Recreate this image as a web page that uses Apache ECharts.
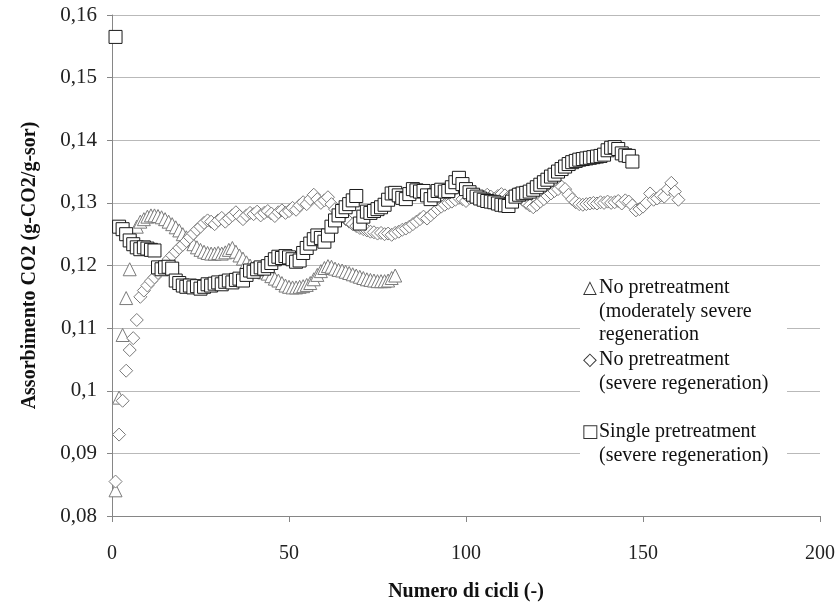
<!DOCTYPE html>
<html>
<head>
<meta charset="utf-8">
<script src="https://cdn.jsdelivr.net/npm/echarts@6/dist/echarts.min.js"></script>
<style>
html,body{margin:0;padding:0;background:#fff;}
#chart{width:840px;height:607px;}
</style>
</head>
<body>
<div id="chart"></div>
<script>
// Assorbimento CO2 per ciclo (ciclo = posizione + 1)
var noPretreatModerate = [
0.0841,0.0989,0.1089,0.1148,0.1194,0.1245,0.1262,0.1270,0.1274,0.1278,
0.1280,0.1280,0.1279,0.1277,0.1274,0.1270,0.1266,0.1261,0.1256,0.1250,
0.1245,0.1240,0.1234,0.1229,0.1225,0.1222,0.1220,0.1219,0.1219,0.1220,
0.1219,0.1221,0.1225,0.1228,0.1222,0.1216,0.1211,0.1205,0.1200,0.1196,
0.1193,0.1191,0.1189,0.1187,0.1183,0.1179,0.1176,0.1172,0.1168,0.1166,
0.1165,0.1165,0.1166,0.1167,0.1169,0.1172,0.1178,0.1185,0.1191,0.1196,
0.1199,0.1198,0.1195,0.1193,0.1192,0.1190,0.1188,0.1186,0.1184,0.1182,
0.1180,0.1178,0.1177,0.1176,0.1175,0.1175,0.1175,0.1176,0.1180,0.1184
];
var noPretreatSevere = [
0.0855,0.0930,0.0984,0.1032,0.1065,0.1084,0.1113,0.1150,0.1160,0.1168,
0.1175,0.1181,0.1188,0.1196,0.1203,0.1210,0.1216,0.1222,0.1228,0.1233,
0.1239,0.1245,0.1251,0.1257,0.1262,0.1268,0.1272,0.1270,0.1266,0.1272,
0.1276,0.1270,0.1275,0.1280,0.1285,0.1279,0.1274,0.1280,0.1284,0.1282,
0.1286,0.1280,0.1284,0.1287,0.1283,0.1279,0.1285,0.1288,0.1284,0.1287,
0.1292,0.1289,0.1296,0.1301,0.1298,0.1306,0.1313,0.1306,0.1300,0.1304,
0.1309,0.1298,0.1290,0.1284,0.1279,0.1274,0.1270,0.1266,0.1263,0.1260,
0.1258,0.1256,0.1254,0.1253,0.1251,0.1252,0.1250,0.1251,0.1249,0.1252,
0.1254,0.1257,0.1259,0.1262,0.1266,0.1270,0.1274,0.1278,0.1275,0.1280,
0.1285,0.1290,0.1294,0.1297,0.1300,0.1302,0.1305,0.1308,0.1306,0.1303,
0.1308,0.1312,0.1309,0.1306,0.1310,0.1313,0.1310,0.1307,0.1311,0.1314,
0.1312,0.1309,0.1312,0.1315,0.1311,0.1305,0.1300,0.1296,0.1293,0.1297,
0.1302,0.1306,0.1311,0.1315,0.1319,0.1322,0.1326,0.1322,0.1313,0.1306,
0.1301,0.1298,0.1297,0.1298,0.1299,0.1300,0.1299,0.1301,0.1300,0.1302,
0.1300,0.1301,0.1303,0.1299,0.1304,0.1302,0.1296,0.1288,0.1290,0.1294,
0.1300,0.1315,0.1305,0.1307,0.1312,0.1310,0.1322,0.1332,0.1318,0.1305
];
var singlePretreatSevere = [
0.1565,0.1262,0.1258,0.1250,0.1240,0.1234,0.1229,0.1226,0.1229,0.1227,
0.1225,0.1224,0.1197,0.1194,0.1197,0.1198,0.1195,0.1176,0.1172,0.1168,
0.1166,0.1168,0.1165,0.1167,0.1163,0.1166,0.1170,0.1168,0.1171,0.1173,
0.1170,0.1174,0.1176,0.1173,0.1177,0.1179,0.1176,0.1185,0.1192,0.1190,
0.1194,0.1197,0.1195,0.1199,0.1204,0.1210,0.1214,0.1212,0.1215,0.1213,
0.1210,0.1206,0.1208,0.1220,0.1228,0.1235,0.1242,0.1248,0.1244,0.1238,
0.1248,0.1262,0.1272,0.1280,0.1287,0.1293,0.1298,0.1304,0.1311,0.1267,
0.1278,0.1286,0.1284,0.1287,0.1290,0.1293,0.1297,0.1305,0.1315,0.1316,
0.1312,0.1308,0.1306,0.1314,0.1322,0.1320,0.1318,0.1319,0.1312,0.1306,
0.1312,0.1319,0.1321,0.1318,0.1319,0.1325,0.1333,0.1340,0.1330,0.1322,
0.1317,0.1313,0.1310,0.1307,0.1305,0.1303,0.1302,0.1301,0.1299,0.1297,
0.1296,0.1295,0.1302,0.1310,0.1313,0.1315,0.1316,0.1318,0.1321,0.1325,
0.1329,0.1333,0.1337,0.1342,0.1345,0.1350,0.1354,0.1358,0.1362,0.1365,
0.1367,0.1369,0.1370,0.1371,0.1372,0.1373,0.1374,0.1375,0.1377,0.1384,
0.1388,0.1389,0.1386,0.1379,0.1376,0.1375,0.1366
];
var seriesNames = [
  'No pretreatment (moderately severe regeneration',
  'No pretreatment (severe regeneration)',
  'Single pretreatment (severe regeneration)'
];
var legendLines = [
  ['No pretreatment', '(moderately severe', 'regeneration'],
  ['No pretreatment', '(severe regeneration)'],
  ['Single pretreatment', '(severe regeneration)']
];
var legendGlyphs = ['\u25B3', '\u25C7', '\u25A1'];
var xTitle = 'Numero di cicli (-)';
var yTitle = 'Assorbimento CO2 (g-CO2/g-sor)';

function toPoints(arr) {
  return arr.map(function (v, i) { return [i + 1, v]; });
}

var FONT = '"Liberation Serif", "Times New Roman", serif';
var chart = echarts.init(document.getElementById('chart'), null, {renderer: 'canvas'});

var graphics = [{
  type: 'rect',
  shape: {x: 580, y: 270, width: 207, height: 200},
  style: {fill: '#fff'},
  z: 10
}];
var startY = [288, 360, 432];
var lh = 23.5;
for (var k = 0; k < 3; k++) {
  graphics.push({
    type: 'text', z: 11,
    style: {text: legendGlyphs[k], x: 590, y: startY[k], font: '18px "DejaVu Sans"', fill: '#333',
            align: 'center', verticalAlign: 'middle'}
  });
  for (var j = 0; j < legendLines[k].length; j++) {
    graphics.push({
      type: 'text', z: 11,
      style: {text: legendLines[k][j], x: 599, y: startY[k] + j * lh, font: '20px ' + FONT, fill: '#111',
              verticalAlign: 'middle'}
    });
  }
}

var option = {
  animation: false,
  backgroundColor: '#fff',
  grid: {left: 112, right: 20, top: 15, bottom: 88, containLabel: false},
  xAxis: {
    type: 'value', min: 0, max: 200, interval: 50,
    name: xTitle, nameLocation: 'middle', nameGap: 66,
    nameTextStyle: {fontFamily: FONT, fontSize: 20, fontWeight: 'bold', color: '#111'},
    axisLine: {show: true, lineStyle: {color: '#868686', width: 1}},
    axisTick: {show: true, length: 6, lineStyle: {color: '#868686'}},
    axisLabel: {fontFamily: FONT, fontSize: 20, color: '#222', margin: 28},
    splitLine: {show: false}
  },
  yAxis: {
    type: 'value', min: 0.08, max: 0.16, interval: 0.01,
    name: yTitle, nameLocation: 'middle', nameGap: 72, nameRotate: 90,
    nameTextStyle: {fontFamily: FONT, fontSize: 20, fontWeight: 'bold', color: '#111'},
    axisLine: {show: true, lineStyle: {color: '#868686', width: 1}},
    axisTick: {show: true, length: 5, lineStyle: {color: '#868686'}},
    axisLabel: {
      fontFamily: FONT, fontSize: 21, color: '#222', margin: 15,
      formatter: function (v) { return String(parseFloat(v.toFixed(3))).replace('.', ','); }
    },
    splitLine: {show: true, lineStyle: {color: '#b9b9b9', width: 1}}
  },
  graphic: graphics,
  series: [
    {
      name: seriesNames[0], type: 'scatter', data: toPoints(noPretreatModerate),
      symbol: 'triangle', symbolSize: 13,
      itemStyle: {color: '#fff', borderColor: '#7a7a7a', borderWidth: 1, opacity: 1}
    },
    {
      name: seriesNames[1], type: 'scatter', data: toPoints(noPretreatSevere),
      symbol: 'diamond', symbolSize: 13,
      itemStyle: {color: '#fff', borderColor: '#7a7a7a', borderWidth: 1, opacity: 1}
    },
    {
      name: seriesNames[2], type: 'scatter', data: toPoints(singlePretreatSevere),
      symbol: 'rect', symbolSize: 13,
      itemStyle: {color: '#fff', borderColor: '#1a1a1a', borderWidth: 1, opacity: 1}
    }
  ]
};
chart.setOption(option);
</script>
</body>
</html>
